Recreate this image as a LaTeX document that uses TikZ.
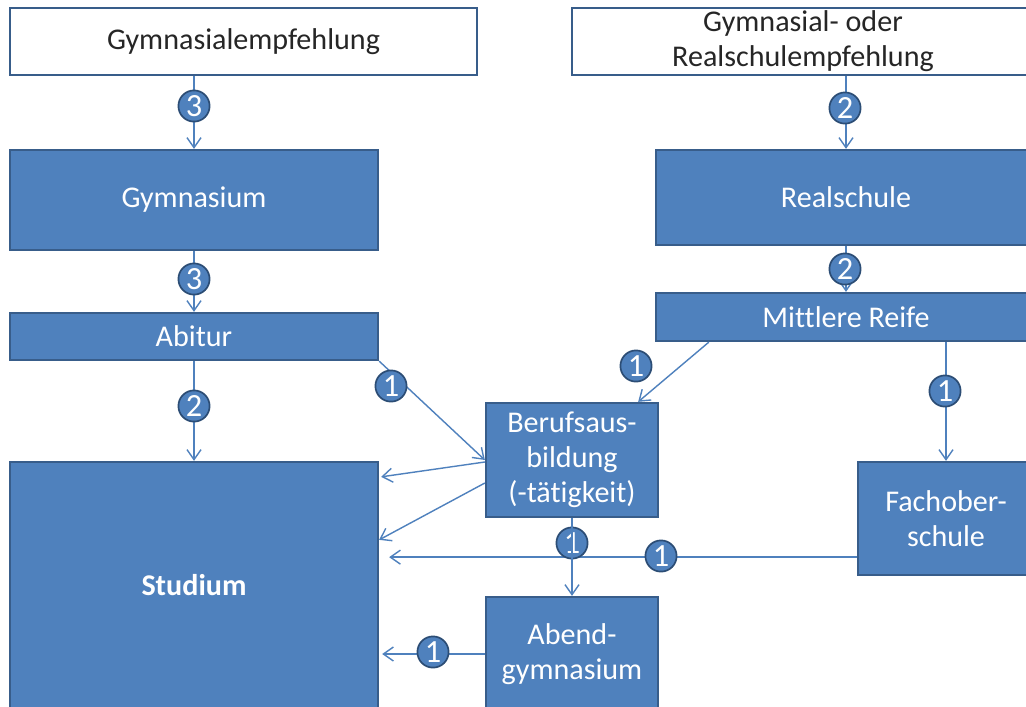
\documentclass[tikz,border=0pt]{standalone}
\usepackage{fontspec}
\setmainfont{Carlito}[Ligatures=NoCommon]
\usetikzlibrary{arrows.meta,calc}
\definecolor{boxblue}{HTML}{4F81BD}
\definecolor{boxline}{HTML}{385D8A}
\definecolor{numline}{HTML}{2C4D75}

\begin{document}
\begin{tikzpicture}[x=0.025cm,y=-0.025cm,
			every node/.style = {align=center, inner sep=0pt, font=\fontsize{21.4}{25}\selectfont},
			empf/.style = {draw=boxline, line width=1.6pt, fill=white, text=black!85},
			schule/.style = {draw=boxline, line width=1.6pt, fill=boxblue, text=white},
			num/.style = {circle, draw=numline, line width=1.2pt, fill=boxblue, text=white, minimum size=0.78cm, font=\fontsize{23}{25}\selectfont},
			pfeil/.style = {draw=boxblue, line width=1pt, -{Straight Barb[length=2.5mm,width=3.5mm]}}]
			
			\useasboundingbox (0,0) rectangle (1026,706);
			\clip (0,0) rectangle (1026,706);
			\fill[white] (0,0) rectangle (1026,706);
			
			% Empfehlungen
			\node[empf, minimum width=11.675cm, minimum height=1.675cm] (gemp) at (243.5,41.5) {Gymnasialempfehlung};
			\node[empf, minimum width=11.55cm, minimum height=1.675cm] (remp) at (803,41.5) {Gymnasial- oder\\Realschulempfehlung};
			
			% Schulen und Abschluesse
			\node[schule, minimum width=9.2cm, minimum height=2.5cm] (gym) at (194,200) {Gymnasium};
			\node[schule, minimum width=9.5cm, minimum height=2.375cm] (real) at (846,197.5) {Realschule};
			\node[schule, minimum width=9.2cm, minimum height=1.175cm] (abi) at (194,336.5) {Abitur};
			\node[schule, minimum width=9.5cm, minimum height=1.2cm] (mr) at (846,317) {Mittlere Reife};
			\node[schule, minimum width=4.3cm, minimum height=2.85cm] (beruf) at (572,460) {Berufsaus-\\bildung\\(-tätigkeit)};
			\node[schule, minimum width=9.2cm, minimum height=6.15cm] (stud) at (194,585) {\textbf{Studium}};
			\node[schule, minimum width=4.4cm, minimum height=2.825cm] (fos) at (946,518.5) {Fachober-\\schule};
			\node[schule, minimum width=4.3cm, minimum height=2.85cm] (abend) at (572,654) {Abend-\\gymnasium};
			
			% Wege
			\draw[pfeil] (gym.north |- gemp.south) -- (gym.north);
			\draw[pfeil] (gym.south) -- (abi.north);
			\draw[pfeil] (abi.south) -- (stud.north);
			\draw[pfeil] (real.north |- remp.south) -- (real.north);
			\draw[pfeil] (real.south) -- (mr.north);
			\draw[pfeil] (abi.south east) -- (beruf.west);
			\draw[pfeil] ($(mr.south west)+(54,0)$) -- ($(beruf.north east)+(-21,0)$);
			\draw[pfeil] (fos.north |- mr.south) -- (fos.north);
			\draw[pfeil] ($(beruf.west)+(0,2)$) -- ($(stud.north east)+(2,16)$);
			\draw[pfeil] ($(beruf.west)+(0,23)$) -- ($(stud.north east)+(0,79)$);
			\draw[pfeil] ($(fos.south west)+(0,-19)$) -- ($(stud.east |- fos.south west)+(10,-19)$);
			\draw[pfeil] (abend.west) -- ($(abend.west -| stud.east)+(3,0)$);
			\node[num] (ba) at (572,543) {1};
			\draw[pfeil] (beruf.south) -- (abend.north);
			
			% Anzahl
			\node[num] (ge) at (194,106) {3};
			\node[num] (ga) at (194,279) {3};
			\node[num] (as) at (194,406) {2};
			\node[num] (re) at (845,108) {2};
			\node[num] (rm) at (845,269) {2};
			\node[num] (ab) at (391,386) {1};
			\node[num] (mb) at (636,366) {1};
			\node[num] (mf) at (945,391) {1};
			\node[num] (fs) at (661,556) {1};
			\node[num] (as2) at (433,652) {1};
			\end{tikzpicture}
\end{document}
